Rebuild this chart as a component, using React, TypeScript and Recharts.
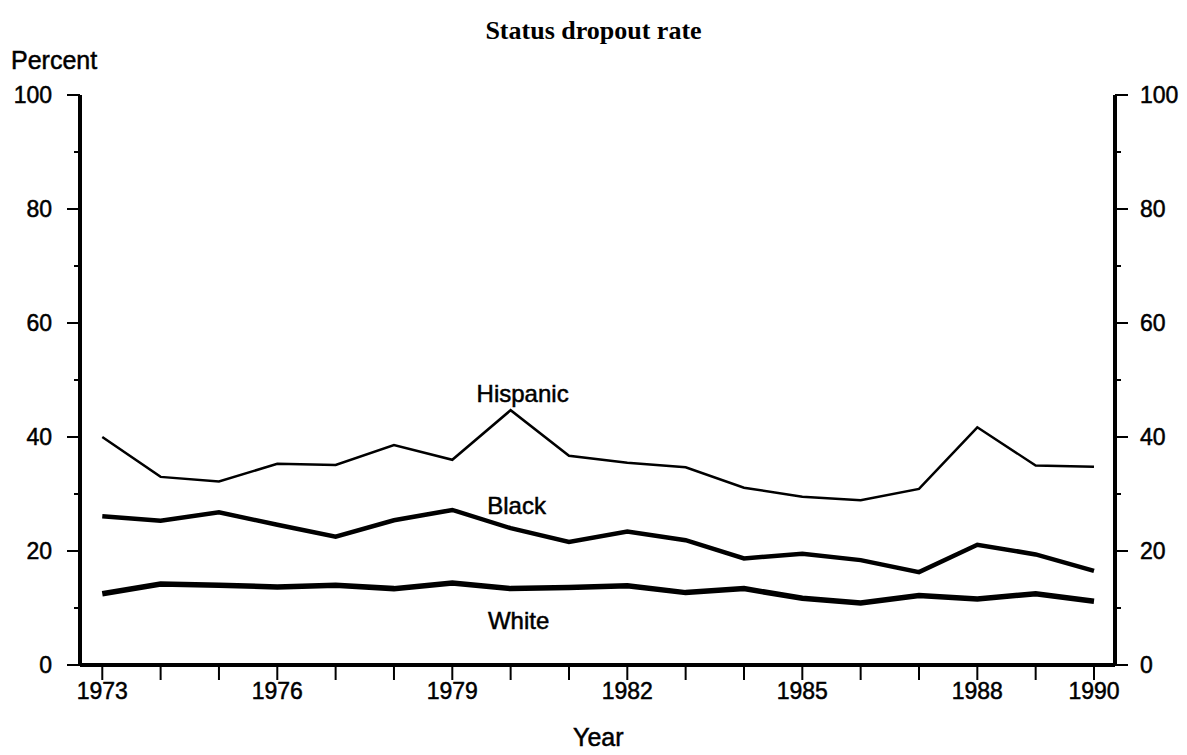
import React from "react";
import { LineChart, Line, XAxis, YAxis } from "recharts";

const years = [1973, 1974, 1975, 1976, 1977, 1978, 1979, 1980, 1981, 1982, 1983, 1984, 1985, 1986, 1987, 1988, 1989, 1990];
const hispanic = [40.0, 33.0, 32.2, 35.3, 35.1, 38.6, 36.0, 44.7, 36.7, 35.5, 34.7, 31.1, 29.5, 28.9, 30.9, 41.7, 35.0, 34.8];
const black = [26.1, 25.3, 26.8, 24.6, 22.5, 25.4, 27.2, 24.0, 21.6, 23.4, 21.9, 18.7, 19.5, 18.4, 16.3, 21.1, 19.4, 16.5];
const white = [12.5, 14.2, 14.0, 13.7, 14.0, 13.4, 14.4, 13.4, 13.6, 13.9, 12.7, 13.4, 11.7, 10.9, 12.2, 11.6, 12.5, 11.2];

const yTicks = [0, 10, 20, 30, 40, 50, 60, 70, 80, 90, 100];
const yLabelTicks = [0, 20, 40, 60, 80, 100];
const xLabelYears = [1973, 1976, 1979, 1982, 1985, 1988, 1990];

const data = years.map((year, i) => ({
  year,
  hispanic: hispanic[i],
  black: black[i],
  white: white[i],
}));

const FONT = "'Liberation Sans', Arial, Helvetica, sans-serif";
// the scanned original prints its text a little heavy
const ink = { fill: "#000", stroke: "#000", strokeWidth: 0.5 };

function LeftTick(props: any) {
  const { x, y, payload } = props;
  const major = yLabelTicks.includes(payload.value);
  return (
    <g>
      <line x1={x} x2={x - (major ? 13 : 6)} y1={y} y2={y} stroke="#000" strokeWidth={2} />
      {major && (
        <text x={x - 28} y={y + 8} textAnchor="end" fontSize={23} fontFamily={FONT} {...ink}>
          {payload.value}
        </text>
      )}
    </g>
  );
}

function RightTick(props: any) {
  const { x, y, payload } = props;
  const major = yLabelTicks.includes(payload.value);
  return (
    <g>
      <line x1={x} x2={x + (major ? 13 : 6)} y1={y} y2={y} stroke="#000" strokeWidth={2} />
      {major && (
        <text x={x + 25} y={y + 8} textAnchor="start" fontSize={23} fontFamily={FONT} {...ink}>
          {payload.value}
        </text>
      )}
    </g>
  );
}

function BottomTick(props: any) {
  const { x, y, payload } = props;
  const labelled = xLabelYears.includes(payload.value);
  return (
    <g>
      <line x1={x} x2={x} y1={y} y2={y + 15} stroke="#000" strokeWidth={2} />
      {labelled && (
        <text x={x} y={y + 34} textAnchor="middle" fontSize={23} fontFamily={FONT} {...ink}>
          {payload.value}
        </text>
      )}
    </g>
  );
}

// series name written next to the 1980 point
function seriesLabel(name: string, dx: number, dy: number) {
  return (props: any) => {
    const { x, y, index } = props;
    if (index !== 7) return null;
    return (
      <text key={name} x={x + dx} y={y + dy} textAnchor="middle" fontSize={24} fontFamily={FONT} {...ink}>
        {name}
      </text>
    );
  };
}

export default function App() {
  return (
    <div style={{ position: "absolute", left: 0, top: 0, width: 1187, height: 755, background: "#fff" }}>
      <div
        style={{
          position: "absolute",
          left: 0,
          width: 1187,
          top: 16,
          textAlign: "center",
          fontFamily: "'Liberation Serif', 'Times New Roman', serif",
          fontWeight: "bold",
          fontSize: 26,
          lineHeight: "30px",
        }}
      >
        Status dropout rate
      </div>
      <div
        style={{
          position: "absolute",
          left: 11,
          top: 45,
          fontFamily: FONT,
          fontSize: 25,
          lineHeight: "30px",
          WebkitTextStroke: "0.5px #000",
        }}
      >
        Percent
      </div>
      <div
        style={{
          position: "absolute",
          left: 573,
          top: 722,
          fontFamily: FONT,
          fontSize: 25,
          lineHeight: "30px",
          WebkitTextStroke: "0.5px #000",
        }}
      >
        Year
      </div>
      <div style={{ position: "absolute", left: 0, top: 0 }}>
        <LineChart width={1187} height={755} data={data} margin={{ top: 95, right: 0, bottom: 0, left: 0 }}>
          <XAxis
            dataKey="year"
            type="number"
            domain={[1972.618, 1990.36]}
            allowDataOverflow
            ticks={years}
            interval={0}
            height={90}
            tickSize={0}
            tickMargin={0}
            tickLine={false}
            tick={<BottomTick />}
            axisLine={{ stroke: "#000", strokeWidth: 4 }}
          />
          <YAxis
            yAxisId="left"
            orientation="left"
            type="number"
            width={80}
            domain={[0, 100]}
            allowDataOverflow
            ticks={yTicks}
            interval={0}
            tickSize={0}
            tickMargin={0}
            tickLine={false}
            tick={<LeftTick />}
            axisLine={{ stroke: "#000", strokeWidth: 4 }}
          />
          <YAxis
            yAxisId="right"
            orientation="right"
            type="number"
            width={72}
            domain={[0, 100]}
            allowDataOverflow
            ticks={yTicks}
            interval={0}
            tickSize={0}
            tickMargin={0}
            tickLine={false}
            tick={<RightTick />}
            axisLine={{ stroke: "#000", strokeWidth: 4 }}
          />
          <Line
            yAxisId="left"
            type="linear"
            dataKey="hispanic"
            stroke="#000"
            strokeWidth={2.5}
            dot={false}
            isAnimationActive={false}
            label={seriesLabel("Hispanic", 12, -8)}
          />
          <Line
            yAxisId="left"
            type="linear"
            dataKey="black"
            stroke="#000"
            strokeWidth={4.5}
            dot={false}
            isAnimationActive={false}
            label={seriesLabel("Black", 6, -14)}
          />
          <Line
            yAxisId="right"
            type="linear"
            dataKey="white"
            stroke="#000"
            strokeWidth={5.5}
            dot={false}
            isAnimationActive={false}
            label={seriesLabel("White", 8, 40)}
          />
        </LineChart>
      </div>
    </div>
  );
}
